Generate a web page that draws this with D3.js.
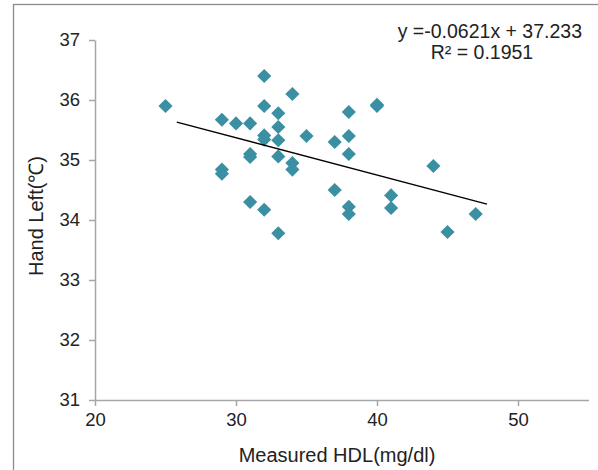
<!DOCTYPE html>
<html lang="en">
<head>
  <meta charset="UTF-8">
  <script src="https://d3js.org/d3.v7.min.js"></script>
  <style>
  body {
    margin:0;
    background-color:#fff;
    font-family: "Liberation Sans", Arial, sans-serif;
  }
  .frame {
    fill:none;
    stroke:#8c8c8c;
    stroke-width:1.3px;
  }
  .axis path, .axis line {
    stroke:#a6a6a6;
    stroke-width:1.5px;
  }
  .axis text {
    fill:#222;
    font-size:18.5px;
    font-family: "Liberation Sans", Arial, sans-serif;
  }
  .title {
    fill:#222;
    font-size:20px;
  }
  .trend {
    stroke:#000;
    stroke-width:1.4px;
    fill:none;
  }
  </style>
</head>
<body>
  <svg id="chart" width="598" height="470"></svg>

  <script>
  // measured HDL (mg/dl) and hand temperature
  const hdl = [25, 29, 29, 29, 30, 31, 31, 31, 31, 32, 32, 32, 32, 32,
    33, 33, 33, 33, 33, 34, 34, 34, 35, 37, 37, 38, 38, 38, 38, 38,
    40, 40, 41, 41, 44, 45, 47];
  const handLeft = [35.9, 35.67, 34.84, 34.77, 35.61, 35.61, 35.1, 35.05, 34.3,
    36.4, 35.9, 35.41, 35.34, 34.17,
    35.78, 35.55, 35.33, 35.06, 33.78, 36.1, 34.95, 34.84, 35.4,
    35.3, 34.5, 35.8, 35.4, 35.1, 34.22, 34.1,
    35.9, 35.92, 34.41, 34.2, 34.9, 33.8, 34.1];

  const xTicks = [20, 30, 40, 50];
  const yTicks = [31, 32, 33, 34, 35, 36, 37];
  const slope = -0.0621, intercept = 37.233;
  const trendRange = [25.8, 47.8];
  const eqText = "y =-0.0621x + 37.233";
  const r2Text = "R\u00b2 = 0.1951";

  let svg = d3.select("#chart");

  // outer frame, runs off right and bottom edge
  svg.append("rect")
    .attr("class","frame")
    .attr("x",13.5).attr("y",4.5)
    .attr("width",620).attr("height",500);

  let x = d3.scaleLinear().domain([20, 55]).range([95, 588.5]);
  let y = d3.scaleLinear().domain([31, 37]).range([400, 40]);

  let xAxis = d3.axisBottom(x).tickValues(xTicks).tickFormat(d3.format("d"))
    .tickSize(6).tickSizeOuter(0).tickPadding(7);
  let yAxis = d3.axisLeft(y).tickValues(yTicks).tickFormat(d3.format("d"))
    .tickSize(6).tickSizeOuter(0).tickPadding(9);

  svg.append("g")
    .attr("class","axis")
    .attr("transform","translate(0,"+y(31)+")")
    .call(xAxis);

  svg.append("g")
    .attr("class","axis")
    .attr("transform","translate("+x(20)+",0)")
    .call(yAxis);

  // axis titles
  svg.append("text")
    .attr("class","title")
    .attr("x",337).attr("y",462)
    .attr("text-anchor","middle")
    .text("Measured HDL(mg/dl)");

  svg.append("text")
    .attr("class","title")
    .attr("transform","translate(43,216) rotate(-90)")
    .attr("text-anchor","middle")
    .text("Hand Left(\u2103)");

  // points
  let pts = hdl.map((d,i) => ({x:d, y:handLeft[i]}));
  let diamond = d3.symbol().type(d3.symbolSquare).size(100);

  svg.selectAll(".pt").data(pts)
    .enter()
    .append("path")
    .attr("class","pt")
    .attr("d", diamond)
    .attr("transform", d => "translate("+x(d.x)+","+y(d.y)+") rotate(45)")
    .style("fill","#3a8fa3");

  // linear trendline
  svg.append("line")
    .attr("class","trend")
    .attr("x1", x(trendRange[0])).attr("y1", y(slope*trendRange[0]+intercept))
    .attr("x2", x(trendRange[1])).attr("y2", y(slope*trendRange[1]+intercept));

  svg.append("text")
    .attr("x",582).attr("y",38)
    .attr("text-anchor","end")
    .style("font-size","19.5px")
    .style("fill","#222")
    .text(eqText);

  svg.append("text")
    .attr("x",482).attr("y",59)
    .attr("text-anchor","middle")
    .style("font-size","19.5px")
    .style("fill","#222")
    .text(r2Text);
  </script>
</body>
</html>
